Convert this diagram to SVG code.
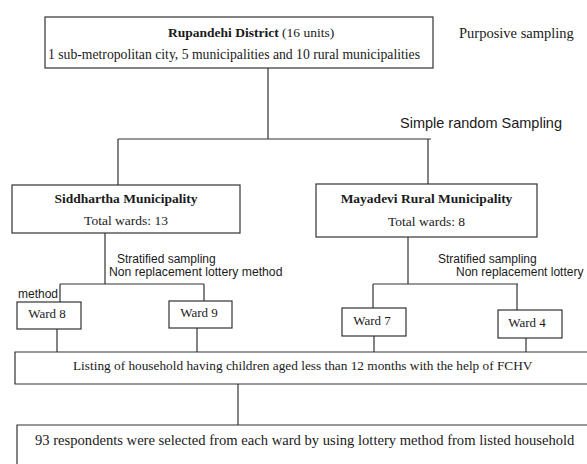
<svg xmlns="http://www.w3.org/2000/svg" width="587" height="464" viewBox="0 0 587 464">
<style>
.box{fill:#fff;stroke:#333;stroke-width:1.2}
.ln{fill:none;stroke:#333;stroke-width:1.2}
.serif{font-family:"Liberation Serif","Times New Roman",serif;font-size:13.5px;fill:#1a1a1a}
.b{font-weight:bold}
.sans{font-family:"Liberation Sans",Arial,sans-serif;font-size:12px;fill:#1a1a1a}
</style>
<rect width="587" height="464" fill="#fff"/>
<g id="connectors">
<path class="ln" d="M268 68V139M118 139H431M118 139V185M428 139V184"/>
<path class="ln" d="M105 233V284M60 284H204M60 284V302M204 284V301"/>
<path class="ln" d="M408 237V284M373 284H518M373 284V308M517 284V310"/>
<path class="ln" d="M57 329V352M197 328V352M374 336V352M526 338V352"/>
<path class="ln" d="M238 384V425"/>
</g>
<g id="district">
<rect class="box" x="45" y="17" width="388" height="51"/>
<text class="serif" x="168" y="37"><tspan class="b">Rupandehi District</tspan> (16 units)</text>
<text class="serif" x="48" y="59" style="font-size:13.7px">1 sub-metropolitan city, 5 municipalities and 10 rural municipalities</text>
</g>
<g id="label-purposive">
<text class="serif" x="459" y="38" style="font-size:14.5px">Purposive sampling</text>
</g>
<g id="label-srs">
<text class="sans" x="400" y="128" style="font-size:14.5px">Simple random Sampling</text>
</g>
<g id="siddhartha">
<rect class="box" x="12" y="185" width="228" height="48"/>
<text class="serif b" x="126" y="203" text-anchor="middle">Siddhartha Municipality</text>
<text class="serif" x="126" y="225" text-anchor="middle">Total wards: 13</text>
</g>
<g id="mayadevi">
<rect class="box" x="316" y="184" width="221" height="53"/>
<text class="serif b" x="426.5" y="203" text-anchor="middle">Mayadevi Rural Municipality</text>
<text class="serif" x="426.5" y="226" text-anchor="middle">Total wards: 8</text>
</g>
<g id="label-strat-left">
<text class="sans" x="117" y="263">Stratified sampling</text>
<text class="sans" x="109" y="276" style="font-size:12.2px">Non replacement lottery method</text>
<text class="sans" x="18" y="298">method</text>
</g>
<g id="label-strat-right">
<text class="sans" x="438" y="263">Stratified sampling</text>
<text class="sans" x="456" y="276">Non replacement lottery</text>
</g>
<g id="ward8">
<rect class="box" x="17" y="302" width="64" height="27"/>
<text class="serif" x="47" y="318" text-anchor="middle" style="font-size:13px">Ward 8</text>
</g>
<g id="ward9">
<rect class="box" x="169" y="301" width="63" height="27"/>
<text class="serif" x="199" y="317" text-anchor="middle" style="font-size:13px">Ward 9</text>
</g>
<g id="ward7">
<rect class="box" x="342" y="308" width="64" height="28"/>
<text class="serif" x="372" y="325" text-anchor="middle" style="font-size:13px">Ward 7</text>
</g>
<g id="ward4">
<rect class="box" x="498" y="310" width="64" height="28"/>
<text class="serif" x="527" y="327" text-anchor="middle" style="font-size:13px">Ward 4</text>
</g>
<g id="listing">
<path class="box" d="M587 352H15V384H587"/>
<text class="serif" x="73" y="370" style="font-size:13.3px">Listing of household having children aged less than 12 months with the help of FCHV</text>
</g>
<g id="respondents">
<path class="box" d="M587 425H17V464"/>
<text class="serif" x="35" y="445" style="font-size:14.6px">93 respondents were selected from each ward by using lottery method from listed household</text>
</g>
</svg>
